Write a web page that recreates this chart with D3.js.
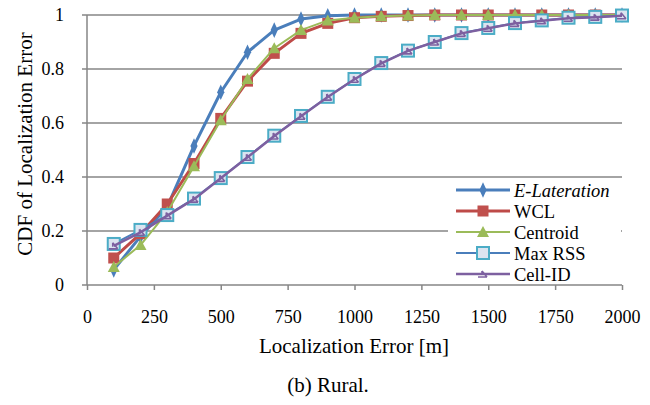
<!DOCTYPE html>
<html>
<head>
<meta charset="utf-8">
<script src="https://cdn.jsdelivr.net/npm/d3@7"></script>
<style>
  body { margin: 0; background: #fff; }
  svg text { fill: #000; }
</style>
</head>
<body>
<svg width="650" height="405"></svg>
<script>
// data
const errors = [100,200,300,400,500,600,700,800,900,1000,1100,1200,1300,1400,1500,1600,1700,1800,1900,2000];
const eLateration = [0.056,0.18,0.29,0.515,0.714,0.862,0.944,0.985,0.997,1,1,1,1,1,1,1,1,1,1,1];
const wcl = [0.10,0.19,0.30,0.45,0.617,0.755,0.858,0.932,0.969,0.99,0.995,0.998,1,1,1,1,1,1,1,1];
const centroid = [0.067,0.148,0.27,0.44,0.61,0.763,0.877,0.944,0.98,0.99,0.995,0.998,1,1,1,1,1,1,1,1];
const maxRss = [0.152,0.204,0.259,0.32,0.396,0.474,0.553,0.626,0.697,0.763,0.822,0.868,0.90,0.933,0.952,0.97,0.98,0.99,0.993,0.998];
const cellId = [0.145,0.195,0.257,0.318,0.395,0.473,0.552,0.625,0.696,0.762,0.821,0.867,0.90,0.932,0.951,0.969,0.979,0.988,0.992,0.997];
const xTicks = [0,250,500,750,1000,1250,1500,1750,2000];
const yTicks = [0,0.2,0.4,0.6,0.8,1];

let svg = d3.select("svg");
const mLeft = 87, mRight = 622, mTop = 15, mBottom = 285;
const serif = "Liberation Serif, Tinos, Times New Roman, serif";

const x = d3.scaleLinear().domain([0, 2000]).range([mLeft, mRight]);
const y = d3.scaleLinear().domain([0, 1]).range([mBottom, mTop]);

// gridlines
svg.append("g")
  .selectAll("line")
  .data(yTicks)
  .enter().append("line")
    .attr("x1", mLeft - 5).attr("x2", mRight)
    .attr("y1", d => y(d)).attr("y2", d => y(d))
    .attr("stroke", "#868686").attr("stroke-width", 1.5);

// y axis line + labels
svg.append("line")
  .attr("x1", mLeft).attr("x2", mLeft).attr("y1", mTop).attr("y2", mBottom)
  .attr("stroke", "#868686").attr("stroke-width", 1.5);
svg.append("g")
  .selectAll("text")
  .data(yTicks)
  .enter().append("text")
    .attr("x", 64).attr("y", d => y(d) + 6)
    .attr("text-anchor", "end")
    .attr("font-family", serif)
    .attr("font-size", 18)
    .text(d => d === 0 || d === 1 ? d : d.toFixed(1));

// x axis ticks + labels
let xg = svg.append("g").attr("transform", `translate(0,${mBottom})`);
xg.call(d3.axisBottom(x).tickValues(xTicks).tickSize(5).tickFormat(d3.format("d")));
xg.attr("font-family", serif).attr("font-size", 18);
xg.select(".domain").remove();
xg.selectAll("line").attr("stroke", "#868686").attr("stroke-width", 1.5);
xg.selectAll("text").attr("y", 38).attr("dy", null);

// axis titles + caption
svg.append("text")
  .attr("transform", "translate(32,144) rotate(-90)")
  .attr("text-anchor", "middle").attr("font-family", serif).attr("font-size", 21)
  .text("CDF of Localization Error");
svg.append("text")
  .attr("x", 354).attr("y", 353).attr("text-anchor", "middle").attr("font-family", serif).attr("font-size", 21)
  .text("Localization Error [m]");
svg.append("text")
  .attr("x", 328).attr("y", 392).attr("text-anchor", "middle").attr("font-family", serif).attr("font-size", 21)
  .text("(b) Rural.");

const cellPath = "M-5,3 H4 M4,3 L-1,-3 M-1,-3 L-1,1";

const series = [
  { name: "E-Lateration", values: eLateration, color: "#4A7EBB", width: 3, italic: true,
    marker: g => g.append("path").attr("d", d3.symbol(d3.symbolDiamond, 70)()).attr("transform", "scale(0.8,1)").attr("fill", "#4A7EBB") },
  { name: "WCL", values: wcl, color: "#BE4B48", width: 3,
    marker: g => g.append("rect").attr("x", -5.5).attr("y", -5.5).attr("width", 11).attr("height", 11).attr("fill", "#C0504D") },
  { name: "Centroid", values: centroid, color: "#9BBB59", width: 2,
    marker: g => g.append("path").attr("d", "M0,-6 L6,5 L-6,5 Z").attr("fill", "#9BBB59") },
  { name: "Max RSS", values: maxRss, color: "#4A7EBB", width: 2,
    marker: g => g.append("rect").attr("x", -6).attr("y", -6).attr("width", 12).attr("height", 12)
      .attr("fill", "#DBE4F0").attr("stroke", "#4BACC6").attr("stroke-width", 2) },
  { name: "Cell-ID", values: cellId, color: "#7D60A0", width: 2.5,
    marker: g => g.append("path").attr("d", cellPath).attr("fill", "none")
      .attr("stroke", "#7D60A0").attr("stroke-width", 1.6) }
];

const line = d3.line().x((d, i) => x(errors[i])).y(d => y(d));

series.forEach(s => {
  svg.append("path")
    .datum(s.values)
    .attr("d", line)
    .attr("fill", "none")
    .attr("stroke", s.color)
    .attr("stroke-width", s.width)
    .attr("stroke-linejoin", "round");
  svg.append("g")
    .selectAll("g")
    .data(s.values)
    .enter().append("g")
      .attr("transform", (d, i) => `translate(${x(errors[i])},${y(d)})`)
      .each(function() { s.marker(d3.select(this)); });
});

// legend
let legend = svg.append("g");
legend.append("rect")
  .attr("x", 448).attr("y", 179).attr("width", 173).attr("height", 105)
  .attr("fill", "#fff");
series.forEach((s, i) => {
  let ly = 190 + i * 21;
  legend.append("line")
    .attr("x1", 456).attr("x2", 510).attr("y1", ly).attr("y2", ly)
    .attr("stroke", s.color).attr("stroke-width", s.width);
  s.marker(legend.append("g").attr("transform", `translate(483,${ly})`));
  legend.append("text")
    .attr("x", 514).attr("y", ly + 6.5)
    .attr("font-family", serif)
    .attr("font-size", 18.5)
    .attr("font-style", s.italic ? "italic" : null)
    .text(s.name);
});
</script>
</body>
</html>
